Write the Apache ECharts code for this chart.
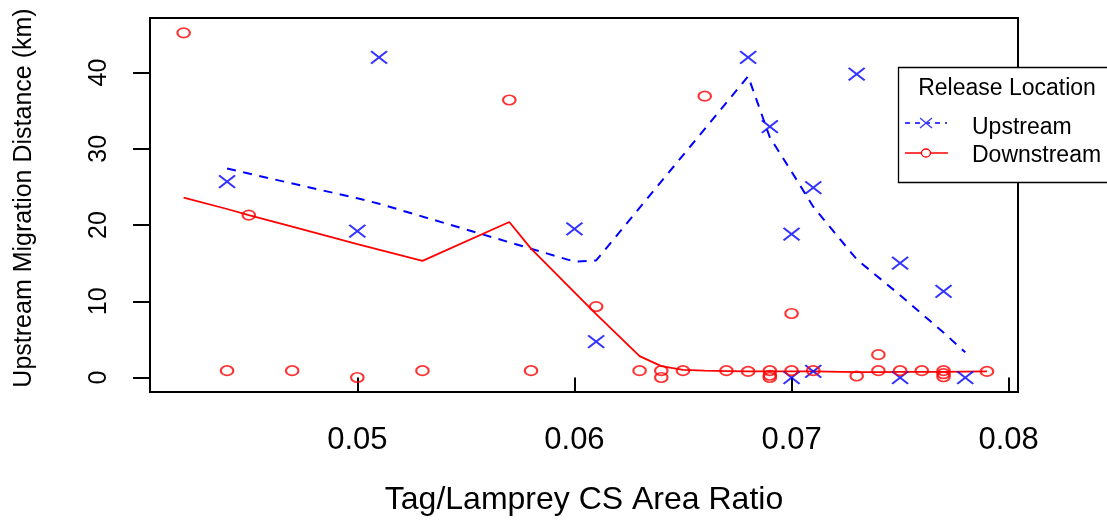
<!DOCTYPE html>
<html>
<head>
<meta charset="utf-8">
<script src="https://cdn.jsdelivr.net/npm/echarts@6/dist/echarts.min.js"></script>
<style>
html,body{margin:0;padding:0;background:#fff;}
#chart{width:1107px;height:521px;}
</style>
</head>
<body>
<div id="chart"></div>
<script>
// ---- data ----
const xTicks = [0.05, 0.06, 0.07, 0.08];
const yTicks = [0, 10, 20, 30, 40];

// Upstream release (blue crosses)
const upX = [0.044, 0.050, 0.051, 0.060, 0.061, 0.068, 0.069, 0.070, 0.070, 0.071, 0.071, 0.073, 0.075, 0.075, 0.077, 0.078];
const upY = [25.7, 19.2, 42.0, 19.5, 4.7, 42.0, 32.9, 18.8, 0.0, 24.9, 0.8, 39.8, 15.0, 0.0, 11.3, 0.0];

// Downstream release (red circles)
const downX = [0.042, 0.044, 0.045, 0.047, 0.050, 0.053, 0.057, 0.058, 0.061, 0.063, 0.064, 0.064, 0.065, 0.066, 0.067, 0.068, 0.069, 0.069, 0.069, 0.070, 0.070, 0.071, 0.073, 0.074, 0.074, 0.075, 0.076, 0.077, 0.077, 0.077, 0.079];
const downY = [45.2, 0.9, 21.3, 0.9, 0.0, 0.9, 36.4, 0.9, 9.3, 0.9, 0.9, 0.0, 0.9, 36.9, 0.9, 0.8, 0.9, 0.3, 0.0, 8.4, 0.9, 0.9, 0.2, 3.0, 0.9, 0.9, 0.9, 0.9, 0.5, 0.1, 0.8];

// Smoothed trend lines
const upFitX = [0.044, 0.050, 0.051, 0.060, 0.061, 0.068, 0.069, 0.070, 0.071, 0.073, 0.075, 0.077, 0.078];
const upFitY = [27.4, 23.5, 22.8, 15.2, 15.35, 39.5, 31.5, 27.0, 22.4, 15.5, 10.8, 5.9, 3.3];

const downFitX = [0.042, 0.044, 0.045, 0.047, 0.050, 0.053, 0.057, 0.058, 0.061, 0.063, 0.064, 0.065, 0.066, 0.067, 0.068, 0.069, 0.070, 0.071, 0.073, 0.074, 0.075, 0.076, 0.077, 0.079];
const downFitY = [23.6, 22.1, 21.3, 19.8, 17.5, 15.3, 20.4, 16.9, 8.3, 2.8, 1.5, 1.0, 0.9, 0.85, 0.8, 0.8, 0.8, 0.8, 0.7, 0.7, 0.75, 0.75, 0.75, 0.8];

const legendTitle = 'Release Location';
const seriesNames = ['Upstream', 'Downstream'];

function pairs(xs, ys) { return xs.map((x, i) => [x, ys[i]]); }

const FONT = '"Liberation Sans", Arial, sans-serif';
const crossPath = 'path://M0,0L16,12.5M16,0L0,12.5';
const ellipsePath = 'path://M0,5C0,2.24 2.91,0 6.5,0C10.09,0 13,2.24 13,5C13,7.76 10.09,10 6.5,10C2.91,10 0,7.76 0,5Z';

const chart = echarts.init(document.getElementById('chart'), null, {renderer: 'canvas'});
chart.setOption({
  animation: false,
  backgroundColor: '#fff',
  grid: {left: 150, top: 18, right: 89, bottom: 128, show: true, borderColor: '#000', borderWidth: 2, backgroundColor: 'transparent'},
  xAxis: {
    type: 'value', min: 0.04045, max: 0.08043,
    name: 'Tag/Lamprey CS Area Ratio', nameLocation: 'middle', nameGap: 92,
    nameTextStyle: {fontFamily: FONT, fontSize: 32, color: '#000'},
    axisLine: {show: false},
    splitLine: {show: false},
    axisTick: {show: true, length: 14, lineStyle: {color: '#000', width: 2}, customValues: xTicks},
    axisLabel: {customValues: xTicks, margin: 33, fontFamily: FONT, fontSize: 31, color: '#000',
      formatter: v => v.toFixed(2)}
  },
  yAxis: {
    type: 'value', min: -1.9, max: 47.15,
    name: 'Upstream Migration Distance (km)', nameLocation: 'middle', nameGap: 113, nameRotate: 90,
    nameTextStyle: {fontFamily: FONT, fontSize: 25, color: '#000', padding: [0, 0, 0, 14]},
    axisLine: {show: false},
    splitLine: {show: false},
    axisTick: {show: true, length: 17, lineStyle: {color: '#000', width: 2}, customValues: yTicks},
    axisLabel: {customValues: yTicks, rotate: 90, margin: 38, fontFamily: FONT, fontSize: 25, color: '#000',
      formatter: v => String(v)}
  },
  series: [
    {
      name: seriesNames[0] + ' trend', type: 'line', data: pairs(upFitX, upFitY),
      symbol: 'none', lineStyle: {color: '#0000ff', width: 2, type: [9, 7.5]}, z: 2
    },
    {
      name: seriesNames[1] + ' trend', type: 'line', data: pairs(downFitX, downFitY),
      symbol: 'none', lineStyle: {color: '#ff0000', width: 1.8}, z: 2
    },
    {
      name: seriesNames[0], type: 'scatter', data: pairs(upX, upY),
      symbol: crossPath, symbolSize: [16, 12.5],
      itemStyle: {color: 'none', borderColor: '#0000ff', borderWidth: 2}, z: 3
    },
    {
      name: seriesNames[1], type: 'scatter', data: pairs(downX, downY),
      symbol: ellipsePath, symbolSize: [12.5, 9.5],
      itemStyle: {color: 'none', borderColor: '#ff0000', borderWidth: 1.9}, z: 3
    }
  ],
  graphic: [
    {type: 'rect', z: 100, shape: {x: 898.5, y: 67.5, width: 240, height: 115},
      style: {fill: '#fff', stroke: '#000', lineWidth: 1.3}},
    {type: 'text', z: 101, style: {text: legendTitle, x: 1007, y: 89, align: 'center', verticalAlign: 'middle',
      fontSize: 23, fontFamily: FONT, fill: '#000'}},
    {type: 'line', z: 101, shape: {x1: 905, y1: 123, x2: 947, y2: 123},
      style: {stroke: '#0000ff', lineWidth: 1.3, lineDash: [5, 5]}},
    {type: 'line', z: 101, shape: {x1: 920, y1: 118, x2: 932, y2: 128}, style: {stroke: '#3a3aff', lineWidth: 1.3}},
    {type: 'line', z: 101, shape: {x1: 932, y1: 118, x2: 920, y2: 128}, style: {stroke: '#3a3aff', lineWidth: 1.3}},
    {type: 'text', z: 101, style: {text: seriesNames[0], x: 972, y: 128, align: 'left', verticalAlign: 'middle',
      fontSize: 23, fontFamily: FONT, fill: '#000'}},
    {type: 'line', z: 101, shape: {x1: 905, y1: 153, x2: 948, y2: 153}, style: {stroke: '#ff0000', lineWidth: 1.3}},
    {type: 'ellipse', z: 102, shape: {cx: 926, cy: 153, rx: 4.5, ry: 4}, style: {fill: '#fff', stroke: '#ff0000', lineWidth: 1.3}},
    {type: 'text', z: 101, style: {text: seriesNames[1], x: 972, y: 156, align: 'left', verticalAlign: 'middle',
      fontSize: 23, fontFamily: FONT, fill: '#000'}}
  ]
});
</script>
</body>
</html>
